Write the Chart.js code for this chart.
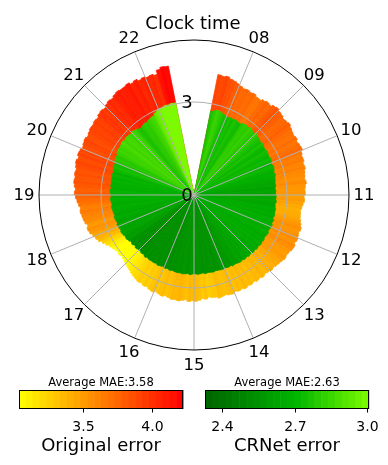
<!DOCTYPE html>
<html>
<head>
<meta charset="utf-8">
<script src="https://cdn.jsdelivr.net/npm/chart.js@4.4.0/dist/chart.umd.min.js"></script>
<style>
  html, body { margin: 0; padding: 0; background: #fff; }
</style>
</head>
<body>
<canvas id="clockChart" width="388" height="465"></canvas>
<script>
// clock hours shown round the dial
var hourLabels = ['08','09','10','11','12','13','14','15','16','17','18','19','20','21','22'];

// 5-minute bins from 07:30 to 22:30 (12 per hour)
var origError = [
  3.96, 3.94, 3.97, 3.92, 3.90, 3.86, 3.82, 3.79, 3.81, 3.78, 3.80, 3.75,
  3.74, 3.79, 3.82, 3.80, 3.86, 3.89, 3.85, 3.83, 3.79, 3.81, 3.84, 3.80,
  3.77, 3.75, 3.78, 3.74, 3.77, 3.79, 3.73, 3.70, 3.71, 3.67, 3.69, 3.65,
  3.63, 3.61, 3.64, 3.60, 3.58, 3.59, 3.55, 3.57, 3.53, 3.50, 3.47, 3.49,
  3.50, 3.54, 3.58, 3.62, 3.59, 3.61, 3.63, 3.60, 3.64, 3.62, 3.58, 3.56,
  3.58, 3.55, 3.52, 3.50, 3.47, 3.49, 3.45, 3.43, 3.46, 3.42, 3.44, 3.40,
  3.43, 3.41, 3.44, 3.40, 3.42, 3.39, 3.43, 3.41, 3.38, 3.40, 3.42, 3.37,
  3.36, 3.33, 3.38, 3.35, 3.40, 3.43, 3.41, 3.44, 3.39, 3.42, 3.45, 3.43,
  3.44, 3.41, 3.38, 3.42, 3.39, 3.36, 3.40, 3.37, 3.33, 3.35, 3.31, 3.33,
  3.30, 3.27, 3.24, 3.20, 3.17, 3.14, 3.11, 3.08, 3.06, 3.09, 3.07, 3.10,
  3.14, 3.19, 3.26, 3.33, 3.42, 3.47, 3.52, 3.58, 3.61, 3.57, 3.63, 3.66,
  3.68, 3.71, 3.69, 3.74, 3.78, 3.82, 3.86, 3.83, 3.87, 3.90, 3.88, 3.91,
  3.89, 3.93, 3.96, 3.92, 3.97, 3.95, 3.91, 3.94, 3.96, 3.92, 3.95, 3.98,
  3.97, 4.00, 3.98, 4.03, 4.05, 4.02, 4.07, 4.10, 4.08, 4.13, 4.16, 4.14,
  4.15, 4.18, 4.12, 4.16, 4.10, 4.13, 4.09, 4.11, 4.07, 4.20, 4.26, 4.24
];

var crnetError = [
  2.76, 2.80, 2.84, 2.82, 2.78, 2.75, 2.73, 2.76, 2.74, 2.77, 2.75, 2.74,
  2.79, 2.82, 2.80, 2.83, 2.81, 2.79, 2.82, 2.78, 2.76, 2.74, 2.77, 2.73,
  2.72, 2.75, 2.73, 2.71, 2.74, 2.72, 2.70, 2.73, 2.71, 2.68, 2.70, 2.67,
  2.66, 2.64, 2.65, 2.62, 2.64, 2.63, 2.65, 2.64, 2.66, 2.63, 2.65, 2.67,
  2.66, 2.68, 2.65, 2.69, 2.67, 2.70, 2.68, 2.66, 2.69, 2.67, 2.65, 2.68,
  2.66, 2.68, 2.65, 2.67, 2.64, 2.66, 2.63, 2.65, 2.62, 2.64, 2.61, 2.63,
  2.61, 2.59, 2.60, 2.57, 2.58, 2.56, 2.57, 2.56, 2.55, 2.54, 2.56, 2.55,
  2.54, 2.56, 2.53, 2.55, 2.56, 2.54, 2.55, 2.57, 2.54, 2.56, 2.57, 2.55,
  2.56, 2.55, 2.53, 2.55, 2.52, 2.54, 2.51, 2.53, 2.55, 2.52, 2.54, 2.53,
  2.54, 2.52, 2.55, 2.51, 2.53, 2.50, 2.52, 2.54, 2.51, 2.55, 2.53, 2.57,
  2.60, 2.59, 2.62, 2.64, 2.62, 2.64, 2.66, 2.63, 2.65, 2.67, 2.64, 2.66,
  2.67, 2.69, 2.66, 2.68, 2.70, 2.67, 2.69, 2.71, 2.68, 2.70, 2.69, 2.71,
  2.70, 2.72, 2.69, 2.73, 2.76, 2.74, 2.78, 2.80, 2.79, 2.83, 2.85, 2.84,
  2.86, 2.88, 2.85, 2.87, 2.86, 2.84, 2.86, 2.83, 2.78, 2.76, 2.79, 2.81,
  2.80, 2.83, 2.85, 2.87, 2.93, 2.97, 2.99, 3.01, 3.03, 3.02, 3.04, 3.03
];

var radialTicks = [0, 3];
var origTicks = [3.5, 4.0];
var crnetTicks = [2.4, 2.7, 3.0];
var origRange = [3.04, 4.22];
var crnetRange = [2.33, 3.007];
var origAverage = '3.58';
var crnetAverage = '2.63';

var FONT = "'DejaVu Sans', sans-serif";
var START_ANGLE = 11.25;   // first bin starts at 07:30
var BIN_ANGLE = 1.875;     // 5 minutes of a 16 hour dial
var BAR_SHADE = 0.06;      // bars read a touch lighter than their radius

function clamp01(t) { return Math.max(0, Math.min(1, t)); }

// yellow -> red (like autumn_r)
function origColor(v) {
  var t = clamp01((v - origRange[0]) / (origRange[1] - origRange[0]));
  return 'rgb(255,' + Math.round(255 * (1 - t)) + ',0)';
}

// dark green -> green -> lawn green
var greenStops = [[0, [0, 100, 0]], [0.55, [0, 180, 0]], [1, [124, 252, 0]]];
function crnetColor(v) {
  var t = clamp01((v - crnetRange[0]) / (crnetRange[1] - crnetRange[0]));
  for (var i = 1; i < greenStops.length; i++) {
    if (t <= greenStops[i][0]) {
      var a = greenStops[i - 1], b = greenStops[i];
      var f = (t - a[0]) / (b[0] - a[0]);
      var c = a[1].map(function (x, k) { return Math.round(x + (b[1][k] - x) * f); });
      return 'rgb(' + c.join(',') + ')';
    }
  }
  return 'rgb(124,252,0)';
}

function toRad(d) { return d * Math.PI / 180; }

// hour spokes, drawn over the bars
const spokesPlugin = {
  id: 'spokes',
  afterDatasetsDraw(chart) {
    const r = chart.scales.r;
    const ctx = chart.ctx;
    ctx.save();
    ctx.strokeStyle = '#b0b0b0';
    ctx.lineWidth = 1;
    hourLabels.forEach(function (lab, k) {
      const a = toRad(START_ANGLE + (12 * k + 6) * BIN_ANGLE) - Math.PI / 2;
      ctx.beginPath();
      ctx.moveTo(r.xCenter, r.yCenter);
      ctx.lineTo(r.xCenter + Math.cos(a) * r.drawingArea, r.yCenter + Math.sin(a) * r.drawingArea);
      ctx.stroke();
    });
    ctx.restore();
  }
};

function drawColorbar(ctx, x, y, w, h, range, colorFn, ticks, avg, name) {
  // banded fill like a matplotlib colorbar
  const bands = 24;
  for (let i = 0; i < bands; i++) {
    ctx.fillStyle = colorFn(range[0] + (range[1] - range[0]) * (i + 0.5) / bands);
    ctx.fillRect(x + w * i / bands, y, w / bands + 0.6, h);
  }
  ctx.strokeStyle = '#000';
  ctx.lineWidth = 1;
  ctx.strokeRect(x + 0.5, y + 0.5, w - 1, h - 1);

  ctx.fillStyle = '#000';
  ctx.textAlign = 'center';
  ctx.textBaseline = 'alphabetic';
  ctx.font = '11.5px ' + FONT;
  ctx.fillText('Average MAE:' + avg, x + w / 2, y - 4);

  ctx.font = '14px ' + FONT;
  ticks.forEach(function (t) {
    const tx = Math.round(x + (t - range[0]) / (range[1] - range[0]) * w) + 0.5;
    ctx.beginPath();
    ctx.moveTo(tx, y + h);
    ctx.lineTo(tx, y + h + 3.5);
    ctx.stroke();
    ctx.fillText(t.toFixed(1), tx, 430.5);
  });

  ctx.font = '18px ' + FONT;
  ctx.fillText(name, x + w / 2, 450.5);
}

// labels, title and colour bars
const decorPlugin = {
  id: 'decor',
  afterDraw(chart) {
    const r = chart.scales.r;
    const ctx = chart.ctx;
    ctx.save();
    ctx.fillStyle = '#000';
    ctx.textAlign = 'center';

    ctx.font = '18px ' + FONT;
    ctx.textBaseline = 'alphabetic';
    ctx.fillText('Clock time', 193, 28.5);

    ctx.font = '16.5px ' + FONT;
    ctx.textBaseline = 'middle';
    hourLabels.forEach(function (lab, k) {
      const a = toRad(START_ANGLE + (12 * k + 6) * BIN_ANGLE) - Math.PI / 2;
      const d = r.drawingArea + 15;
      ctx.fillText(lab, r.xCenter + Math.cos(a) * d, r.yCenter + Math.sin(a) * d + 1);
    });

    ctx.font = '18px ' + FONT;
    radialTicks.forEach(function (v) {
      ctx.fillText(String(v), r.xCenter - 7, r.yCenter - r.getDistanceFromCenterForValue(v) + 1);
    });

    drawColorbar(ctx, 19, 390, 164, 19, origRange, origColor, origTicks, origAverage, 'Original error');
    drawColorbar(ctx, 205, 390, 164, 19, crnetRange, crnetColor, crnetTicks, crnetAverage, 'CRNet error');
    ctx.restore();
  }
};

var origBarColors = origError.map(function (v) { return origColor(v - BAR_SHADE); });
var crnetBarColors = crnetError.map(crnetColor);

const config = {
  type: 'polarArea',
  data: {
    datasets: [{
      label: 'CRNet error',
      data: crnetError,
      angle: BIN_ANGLE,
      backgroundColor: crnetBarColors,
      borderColor: crnetBarColors,
      borderWidth: 0.8
    }, {
      label: 'Original error',
      data: origError,
      angle: BIN_ANGLE,
      backgroundColor: origBarColors,
      borderColor: origBarColors,
      borderWidth: 0.8
    }]
  },
  options: {
    responsive: false,
    animation: false,
    events: [],
    layout: { padding: { top: 40, bottom: 115, left: 0, right: 0 } },
    plugins: {
      legend: { display: false },
      tooltip: { enabled: false }
    },
    scales: {
      r: {
        min: 0,
        max: 5,
        startAngle: START_ANGLE,
        afterBuildTicks: function (scale) {
          scale.ticks = [{ value: 0 }, { value: 3 }, { value: 5 }];
        },
        ticks: { display: false },
        pointLabels: { display: false },
        angleLines: { display: false },
        grid: {
          circular: true,
          z: 1,
          lineWidth: 1,
          color: function (ctx) {
            return ctx.tick && ctx.tick.value === 5 ? '#000' : '#b0b0b0';
          }
        }
      }
    }
  },
  plugins: [spokesPlugin, decorPlugin]
};

const clockChart = new Chart('clockChart', config);
</script>
</body>
</html>
